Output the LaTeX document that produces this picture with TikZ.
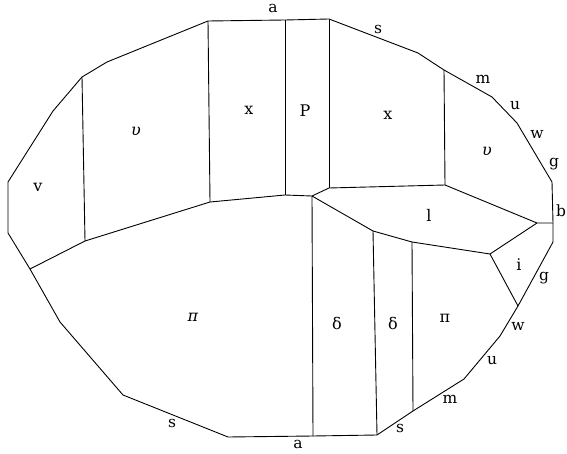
\documentclass[tikz,border=0pt]{standalone}
\usepackage{fontspec}
\setmainfont{DejaVu Serif}
\begin{document}
\begin{tikzpicture}[x=1pt,y=-1pt,
  edge/.style={line width=0.9pt, line join=round},
  lbl/.style={font=\fontsize{15.5}{17}\selectfont, inner sep=0pt},
  reg/.style={font=\fontsize{16}{18}\selectfont, inner sep=0pt}]
\useasboundingbox (0,0) rectangle (567,454);
% outer vertices
\coordinate (o1) at (208,21);
\coordinate (o2) at (285,20);
\coordinate (o3) at (329,19);
\coordinate (o4) at (418,53);
\coordinate (o5) at (444,70);
\coordinate (o6) at (492,97);
\coordinate (o7) at (517,123);
\coordinate (o8) at (552,182);
\coordinate (o9) at (553,223);
\coordinate (o10) at (553,242);
\coordinate (o11) at (518,306);
\coordinate (o12) at (500,336);
\coordinate (o13) at (464,379);
\coordinate (o14) at (413,411);
\coordinate (o15) at (377,435);
\coordinate (o16) at (313,436);
\coordinate (o17) at (228,437);
\coordinate (o18) at (123,395);
\coordinate (o19) at (60,322);
\coordinate (o20) at (30,269);
\coordinate (o21) at (8,233);
\coordinate (o22) at (8,182);
\coordinate (o23) at (53,111);
\coordinate (o24) at (82,77);
\coordinate (o25) at (107,62);
% inner vertices
\coordinate (c1) at (85,241);
\coordinate (c2) at (210,202);
\coordinate (c3) at (285,195);
\coordinate (c4) at (312,196);
\coordinate (c5) at (329,188);
\coordinate (c6) at (445,185);
\coordinate (c7) at (537,223);
\coordinate (c8) at (373,231);
\coordinate (c9) at (412,242);
\coordinate (c10) at (490,254);

\draw[edge] (o1)--(o2)--(o3)--(o4)--(o5)--(o6)--(o7)--(o8)--(o9)--(o10)--(o11)--(o12)--(o13)--(o14)--(o15)--(o16)--(o17)--(o18)--(o19)--(o20)--(o21)--(o22)--(o23)--(o24)--(o25)--cycle;
\draw[edge] (o24)--(c1);
\draw[edge] (o20)--(c1)--(c2)--(c3)--(c4);
\draw[edge] (o1)--(c2);
\draw[edge] (o2)--(c3);
\draw[edge] (o3)--(c5);
\draw[edge] (c4)--(c5)--(c6);
\draw[edge] (o5)--(c6);
\draw[edge] (c6)--(c7)--(o9);
\draw[edge] (c4)--(c8)--(c9)--(c10)--(c7);
\draw[edge] (c10)--(o11);
\draw[edge] (c4)--(o16);
\draw[edge] (c8)--(o15);
\draw[edge] (c9)--(o14);

% boundary labels
\node[lbl] (la1) at (273,8) {a};
\node[lbl] (ls1) at (378,29) {s};
\node[lbl] (lm1) at (483,79) {m};
\node[lbl] (lu1) at (515,106) {u};
\node[lbl] (lw1) at (537,134) {w};
\node[lbl] (lg1) at (554,164) {g};
\node[lbl] (lb) at (561,211) {b};
\node[lbl] (lg2) at (544,278) {g};
\node[lbl] (lw2) at (518,326) {w};
\node[lbl] (lu2) at (492,361) {u};
\node[lbl] (lm2) at (450,399) {m};
\node[lbl] (ls2) at (400,428) {s};
\node[lbl] (la2) at (298,444) {a};
\node[lbl] (ls3) at (172,423) {s};
% region labels
\node[reg] (rv) at (38,187) {v};
\node[reg] (ru1) at (136,131) {\itshape υ};
\node[reg] (rx1) at (249,110) {x};
\node[reg] (rp) at (305,111) {P};
\node[reg] (rx2) at (388,115) {x};
\node[reg] (ru2) at (487,151) {\itshape υ};
\node[reg] (rl) at (429,215) {l};
\node[reg] (ri) at (519,265) {i};
\node[reg] (rpi1) at (193,317) {\itshape π};
\node[reg] (rd1) at (337,323) {δ};
\node[reg] (rd2) at (393,323) {δ};
\node[reg] (rpi2) at (445,318) {π};
\end{tikzpicture}
\end{document}
